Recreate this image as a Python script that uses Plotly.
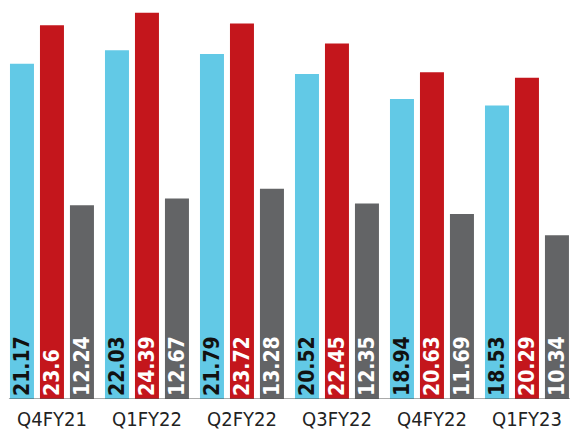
import plotly.graph_objects as go

quarters = ["Q4FY21", "Q1FY22", "Q2FY22", "Q3FY22", "Q4FY22", "Q1FY23"]
series_a = [21.17, 22.03, 21.79, 20.52, 18.94, 18.53]
series_b = [23.6, 24.39, 23.72, 22.45, 20.63, 20.29]
series_c = [12.24, 12.67, 13.28, 12.35, 11.69, 10.34]
labels_a = ["21.17", "22.03", "21.79", "20.52", "18.94", "18.53"]
labels_b = ["23.6", "24.39", "23.72", "22.45", "20.63", "20.29"]
labels_c = ["12.24", "12.67", "13.28", "12.35", "11.69", "10.34"]

x = list(range(len(quarters)))
lab_font = "Liberation Sans Narrow, DejaVu Sans Condensed, Roboto, sans-serif"

fig = go.Figure()
for vals, color, tcolor, name, txt in [
    (series_a, "#62C9E6", "#111111", "Series A", labels_a),
    (series_b, "#C4161C", "#FFFFFF", "Series B", labels_b),
    (series_c, "#636466", "#FFFFFF", "Series C", labels_c),
]:
    fig.add_trace(go.Bar(
        x=x, y=vals, name=name, marker=dict(color=color, line=dict(width=0)),
        text=txt, textposition="inside", insidetextanchor="start",
        textangle=-90, constraintext="none",
        insidetextfont=dict(family=lab_font, size=21, color=tcolor, weight="bold"),
        hoverinfo="skip",
    ))

fig.add_shape(type="line", xref="x", yref="y", x0=-0.453, x1=5.46, y0=0, y1=0,
              line=dict(color="#555555", width=1))

fig.update_layout(
    width=570, height=434,
    margin=dict(l=0, r=0, t=0, b=35),
    paper_bgcolor="white", plot_bgcolor="white",
    barmode="group", bargap=0.053, bargroupgap=0.2,
    showlegend=False,
    uniformtext=dict(mode=False),
    xaxis=dict(range=[-0.547, 5.453], tickvals=x, ticktext=quarters,
               showgrid=False, zeroline=False, showline=False, ticks="",
               ticklabelstandoff=6,
               tickfont=dict(family=lab_font, size=20, color="#222222")),
    yaxis=dict(range=[0, 25.2], visible=False, showgrid=False, zeroline=False),
)

fig.write_html("out.html")
